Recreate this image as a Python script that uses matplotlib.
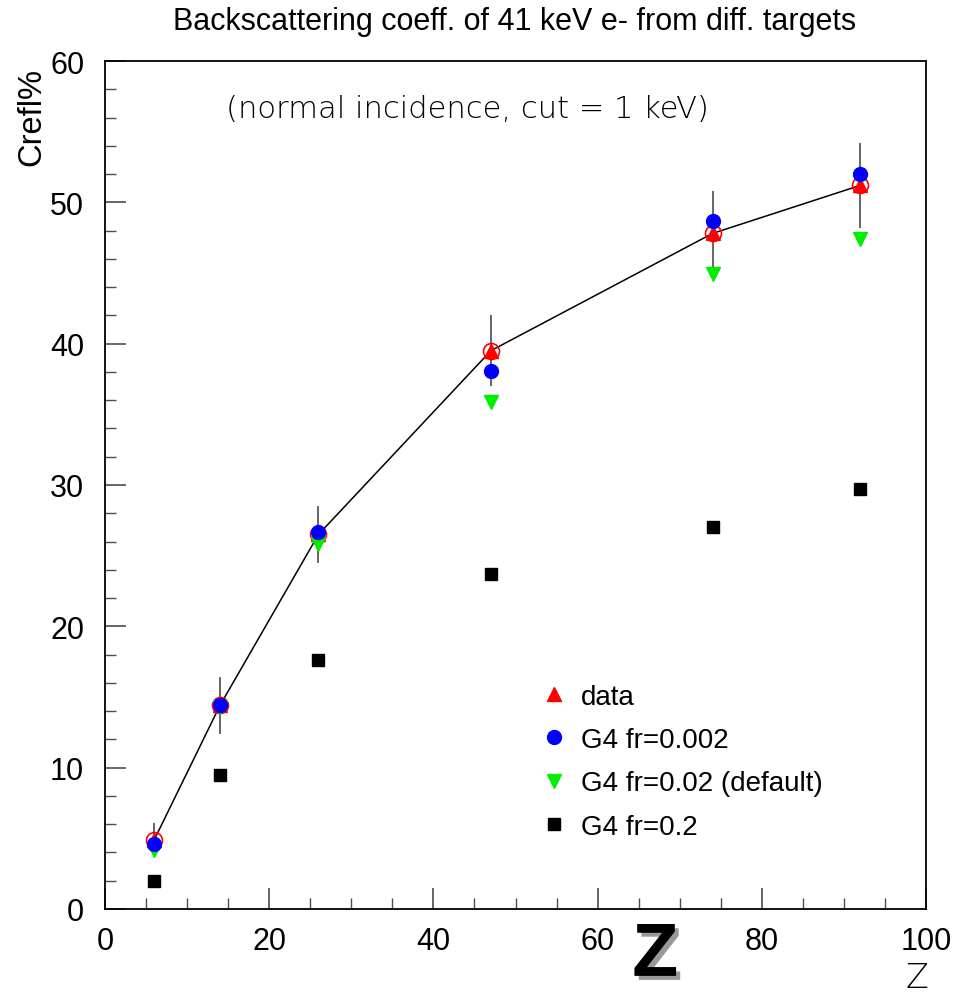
import numpy as np
import matplotlib
matplotlib.use('Agg')
import matplotlib.pyplot as plt
import matplotlib.patheffects as pe

plt.rcParams['font.family'] = ['Liberation Sans', 'DejaVu Sans']

# <------------------------------- Datos --------------------------------->
z = [6, 14, 26, 47, 74, 92]
data = [4.9, 14.4, 26.5, 39.5, 47.8, 51.2]
data_err = [1.2, 2.0, 2.0, 2.5, 3.0, 3.0]
g4_0002 = [4.6, 14.4, 26.7, 38.1, 48.7, 52.0]
g4_002 = [4.2, 14.3, 25.8, 35.9, 44.9, 47.4]
g4_02 = [2.0, 9.5, 17.6, 23.7, 27.0, 29.7]

# <------------------------------- Plot ---------------------------------->
fig = plt.figure(figsize=(9.58, 9.95), dpi=100)
ax = fig.add_axes([105/958, 85/995, 821/958, 848/995])

ax.errorbar(z, data, yerr=data_err, fmt='none', ecolor='0.35', elinewidth=1.3, capsize=0, zorder=1)
ax.plot(z, data, '-', color='k', lw=1.1, zorder=2)
ax.plot(z, data, 'o', mfc='none', mec='red', ms=11.5, mew=1.2, zorder=3)
ax.plot(z, data, '^', color='red', ms=10, zorder=4, label='data')
ax.plot(z, g4_002, 'v', color='#00ee00', ms=10, zorder=5, label='G4 fr=0.02 (default)')
ax.plot(z, g4_0002, 'o', color='blue', ms=10, zorder=6, label='G4 fr=0.002')
ax.plot(z, g4_02, 's', color='k', ms=9, zorder=7, label='G4 fr=0.2')

ax.set_xlim(0, 100)
ax.set_ylim(0, 60)
ax.set_xticks(np.arange(0, 101, 20))
ax.set_xticks(np.arange(0, 101, 5), minor=True)
ax.set_yticks(np.arange(0, 61, 10))
ax.set_yticks(np.arange(0, 61, 2), minor=True)
ax.tick_params(which='both', direction='in', top=False, right=False, labelsize=22, color='0.3')
ax.tick_params(which='major', length=15, width=1.2)
ax.tick_params(axis='y', which='major', pad=15)
ax.tick_params(axis='x', which='major', pad=12)
ax.tick_params(which='minor', length=8, width=1.0)
for s in ax.spines.values():
    s.set_linewidth(1.3)

h, l = ax.get_legend_handles_labels()
orden = [0, 2, 1, 3]
ax.legend([h[i] for i in orden], [l[i] for i in orden], loc='upper left',
          bbox_to_anchor=(0.50, 0.295), frameon=False, fontsize=20,
          handletextpad=0.45, labelspacing=0.62, handlelength=1.0)

fig.text(0.537, 0.978, 'Backscattering coeff. of 41 keV e- from diff. targets',
         ha='center', va='center', fontsize=22)
ax.text(0.441, 0.944, '(normal incidence, cut = 1 keV)', transform=ax.transAxes,
        ha='center', va='center', fontsize=22, family='DejaVu Sans', fontweight=200)
fig.text(0.033, 0.882, 'Crefl%', rotation=90, ha='center', va='center', fontsize=23.5)
fig.text(0.684, 0.038, 'Z', ha='center', va='center', fontsize=54, fontweight='bold',
         path_effects=[pe.withSimplePatchShadow(offset=(3, -3), shadow_rgbFace='0.6', alpha=1), pe.Normal()])
fig.text(0.957, 0.017, 'Z', ha='center', va='center', fontsize=24, family='DejaVu Sans', fontweight=200)

plt.savefig('out.png', dpi=100)
